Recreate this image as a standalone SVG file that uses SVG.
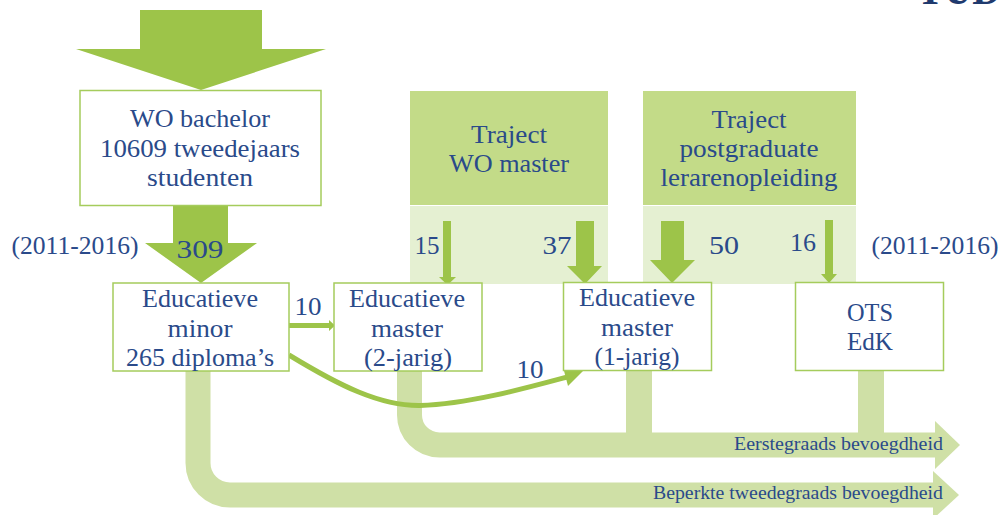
<svg xmlns="http://www.w3.org/2000/svg" width="1001" height="515" viewBox="0 0 1001 515">
<style>
text{font-family:"Liberation Serif","DejaVu Serif",serif;fill:#2a4a8a;text-anchor:middle;font-size:26px}
.s{font-size:19px;text-anchor:end}
.box{fill:#fff;stroke:#a5cc5c;stroke-width:1.5}
.a{fill:#9dc449}
.flow{fill:none;stroke:#cfe0a6;stroke-width:25}
.fl{fill:#cfe0a6}
.d{fill:#c3db88}
.l{fill:#e5f0d2}
</style>
<rect width="1001" height="515" fill="#fff"/>
<g id="panels">
<rect class="d" x="410" y="91" width="198" height="114"/>
<rect class="l" x="410" y="206" width="198" height="78"/>
<rect class="d" x="643" y="91" width="213" height="114"/>
<rect class="l" x="643" y="206" width="213" height="78"/>
</g>
<g id="connectors">
<path class="flow" d="M198 370V463A32 32 0 0 0 230 495H940"/>
<path class="fl" d="M933 471L959 495L933 519Z"/>
<path class="flow" d="M409.500 370V415A30 30 0 0 0 439.500 445H940"/>
<path class="fl" d="M935 421L960 445L935 469Z"/>
<path class="fl" d="M626 370H652V435H626ZM858 370H884V435H858Z"/>
<path class="a" d="M140 10H262V49H326L201 90L76 49H140Z"/>
<path class="a" d="M173 205H228V243H257L201 283L145 243H173Z"/>
<path class="a" d="M443 221H451V277H456L447.500 285L439 277H443Z"/>
<path class="a" d="M576 221H594V266H602L585 284L567 266H576Z"/>
<path class="a" d="M661 221H684V260H695L672 283L650 260H661Z"/>
<path class="a" d="M825 220H833V274H837L829 283L821 274H825Z"/>
<path class="a" d="M289 323H329V320L335 325.500L329 331V328H289Z"/>
<path d="M289 355C340 386 380 406 420 405.500C470 404 530 387 571 376" fill="none" stroke="#9dc449" stroke-width="5"/>
<path class="a" d="M563 367L583 371L568 386Z"/>
</g>
<g id="wo-bachelor">
<rect class="box" x="80" y="90.500" width="241" height="115"/>
<text x="200" y="127" textLength="140" lengthAdjust="spacingAndGlyphs">WO bachelor</text>
<text x="200" y="157" textLength="200" lengthAdjust="spacingAndGlyphs">10609 tweedejaars</text>
<text x="200" y="186" textLength="106" lengthAdjust="spacingAndGlyphs">studenten</text>
</g>
<g id="traject-wo">
<text x="509" y="143" textLength="76" lengthAdjust="spacingAndGlyphs">Traject</text>
<text x="509" y="172" textLength="120" lengthAdjust="spacingAndGlyphs">WO master</text>
</g>
<g id="traject-pg">
<text x="749" y="128" textLength="75" lengthAdjust="spacingAndGlyphs">Traject</text>
<text x="749" y="157" textLength="139" lengthAdjust="spacingAndGlyphs">postgraduate</text>
<text x="749" y="186" textLength="177" lengthAdjust="spacingAndGlyphs">lerarenopleiding</text>
</g>
<g id="educatieve-minor">
<rect class="box" x="113" y="283" width="176" height="88"/>
<text x="200" y="307" textLength="116" lengthAdjust="spacingAndGlyphs">Educatieve</text>
<text x="200" y="337" textLength="65" lengthAdjust="spacingAndGlyphs">minor</text>
<text x="200" y="366" textLength="148" lengthAdjust="spacingAndGlyphs">265 diploma’s</text>
</g>
<g id="master-2">
<rect class="box" x="334" y="283" width="148" height="88"/>
<text x="407" y="307" textLength="116" lengthAdjust="spacingAndGlyphs">Educatieve</text>
<text x="407" y="337" textLength="72" lengthAdjust="spacingAndGlyphs">master</text>
<text x="408" y="366" textLength="88" lengthAdjust="spacingAndGlyphs">(2-jarig)</text>
</g>
<g id="master-1">
<rect class="box" x="563.500" y="282.500" width="148" height="88"/>
<text x="637" y="306" textLength="116" lengthAdjust="spacingAndGlyphs">Educatieve</text>
<text x="637" y="336" textLength="72" lengthAdjust="spacingAndGlyphs">master</text>
<text x="637" y="365" textLength="85" lengthAdjust="spacingAndGlyphs">(1-jarig)</text>
</g>
<g id="ots-edk">
<rect class="box" x="795.500" y="282.500" width="148" height="88"/>
<text x="870" y="321" textLength="46" lengthAdjust="spacingAndGlyphs">OTS</text>
<text x="870" y="350" textLength="46" lengthAdjust="spacingAndGlyphs">EdK</text>
</g>
<g id="labels">
<text x="75" y="254" textLength="127" lengthAdjust="spacingAndGlyphs">(2011-2016)</text>
<text x="935" y="254" textLength="127" lengthAdjust="spacingAndGlyphs">(2011-2016)</text>
<text x="200" y="258" textLength="47" lengthAdjust="spacingAndGlyphs">309</text>
<text x="427" y="254" textLength="25" lengthAdjust="spacingAndGlyphs">15</text>
<text x="557" y="254" textLength="29" lengthAdjust="spacingAndGlyphs">37</text>
<text x="724" y="254" textLength="30" lengthAdjust="spacingAndGlyphs">50</text>
<text x="803" y="251" textLength="26" lengthAdjust="spacingAndGlyphs">16</text>
<text x="308" y="315" textLength="27" lengthAdjust="spacingAndGlyphs">10</text>
<text x="530" y="378" textLength="27" lengthAdjust="spacingAndGlyphs">10</text>
<text class="s" x="943" y="450" textLength="209" lengthAdjust="spacingAndGlyphs">Eerstegraads bevoegdheid</text>
<text class="s" x="943" y="499" textLength="290" lengthAdjust="spacingAndGlyphs">Beperkte tweedegraads bevoegdheid</text>
<text x="959" y="4" style="font-size:44px;font-weight:bold;fill:#1f3a6e" textLength="84" lengthAdjust="spacingAndGlyphs">TUD</text>
</g>
</svg>
